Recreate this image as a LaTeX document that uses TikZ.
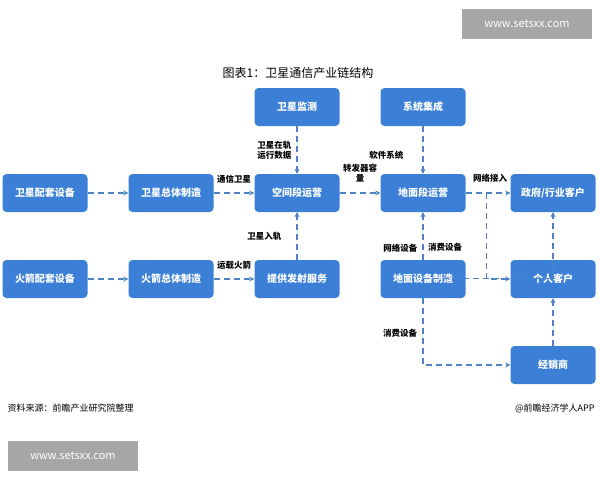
\documentclass[tikz,border=0pt]{standalone}
\usepackage{fontspec}
\setmainfont{Noto Sans CJK SC}
\usetikzlibrary{positioning, arrows.meta}
\definecolor{boxblue}{HTML}{3B80D6}
\definecolor{lineblue}{HTML}{4F82C2}
\tikzset{
  blk/.style={draw=none, fill=boxblue, rounded corners=4pt, minimum width=85pt,
    minimum height=38pt, text=white, font=\fontsize{10}{12}\selectfont\bfseries},
  flow/.style={draw=lineblue, line width=1.2pt, dash pattern=on 6pt off 4pt,
    -{Stealth[length=5pt,width=5pt]}},
  lbl/.style={font=\fontsize{8.5}{10}\selectfont\bfseries, text=black, inner sep=1pt, align=center},
  wm/.style={fill=black!35, text=white, font=\fontsize{11}{13}\selectfont, minimum width=130pt, minimum height=30pt}
}
\begin{document}
\begin{tikzpicture}[x=1pt, y=-1pt, on grid, node distance=86pt and 126pt]
\useasboundingbox (0,0) rectangle (600,480);
\node[wm] (wm_top) at (527,24) {www.setsxx.com};
\node[wm] (wm_bot) at (73,456) {www.setsxx.com};
\node[font=\fontsize{12}{14}\selectfont] (title) at (298,73) {图表1：卫星通信产业链结构};

   \node[blk] (sat_part) at (45,193) {卫星配套设备};
   \node[blk] (sat_make) [right=of sat_part] {卫星总体制造};
   \node[blk] (space)    [right=of sat_make] {空间段运营};
   \node[blk] (ground)   [right=of space] {地面段运营};
   \node[blk] (gov)      [right=of ground, xshift=4pt] {政府/行业客户};
   \node[blk] (monitor)  [above=of space] {卫星监测};
   \node[blk] (integ)    [above=of ground] {系统集成};
   \node[blk] (rkt_part) [below=of sat_part] {火箭配套设备};
   \node[blk] (rkt_make) [right=of rkt_part] {火箭总体制造};
   \node[blk] (launch)   [right=of rkt_make] {提供发射服务};
   \node[blk] (gnd_make) [right=of launch] {地面设备制造};
   \node[blk] (personal) [below=of gov] {个人客户};
   \node[blk] (dealer)   [below=of personal] {经销商};
   \coordinate (split) at ([xshift=21pt]ground.east);
   \coordinate (cons_up) at ([yshift=-19pt]gnd_make.north);
   \coordinate (cons_gov) at (gov.south |- cons_up);
   \coordinate (dl_turn) at (gnd_make.south |- dealer);

\path[flow] (sat_part) -- (sat_make);
\path[flow] (sat_make) -- node[lbl, above=8pt] {通信卫星} (space);
\path[flow] (rkt_part) -- (rkt_make);
\path[flow] (rkt_make) -- node[lbl, above=8pt] {运载火箭} (launch);
\path[flow] (monitor) -- node[lbl, left=4pt] {卫星在轨\\运行数据} (space);
\path[flow] (launch) -- node[lbl, left=14pt] {卫星入轨} (space);
\path[flow] (space) -- node[lbl, above=9pt] {转发器容\\量} (ground);
\path[flow] (integ) -- node[lbl, left=18pt, yshift=-5pt] {软件系统} (ground);
\path[flow] (ground) -- node[lbl, above=9pt, pos=0.55] {网络接入} (gov);
\path[flow] (split) |- (personal);
\path[flow] (gnd_make) -- node[lbl, left=4pt, pos=0.25] {网络设备} (ground);
\path[flow] (cons_up) -- (cons_gov) -- (gov);
\node[lbl] (cons_lbl) at (445,247) {消费设备};
\path[flow] (gnd_make) -- (dl_turn) -- (dealer);
\node[lbl] (cons_lbl2) at (400,333) {消费设备};
\path[flow] (dealer) -- (personal);

\node[font=\fontsize{9}{11}\selectfont\itshape, anchor=west] (src) at (4,408) {资料来源：前瞻产业研究院整理};
\node[font=\fontsize{9}{11}\selectfont, anchor=east] (app) at (598,408) {@前瞻经济学人APP};
\end{tikzpicture}
\end{document}
